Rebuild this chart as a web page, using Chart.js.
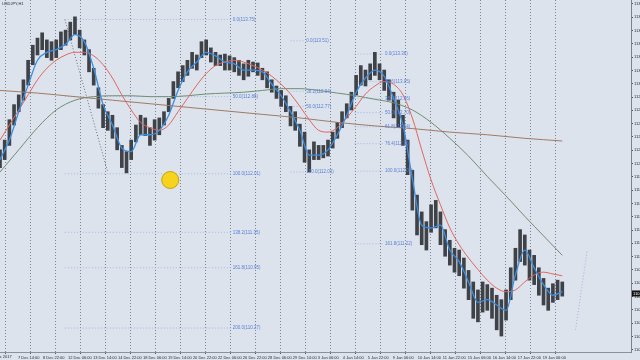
<!DOCTYPE html>
<html><head><meta charset="utf-8">
<script src="https://cdn.jsdelivr.net/npm/chart.js@4"></script>
<style>html,body{margin:0;padding:0;background:#dce3ed;overflow:hidden}</style>
</head><body>
<canvas id="c" width="640" height="360"></canvas>
<script>
// ---- data (H1 bars, sampled every 6 bars: high/low) ----
const symbolName = 'USDJPY,H1';
const sampleBar = [];
for (let i = 0; i <= 120; i++) sampleBar.push(i * 6);
const highs = [112.28,112.39,112.62,112.79,112.90,113.07,113.29,113.46,113.54,113.60,113.52,113.50,113.52,113.61,113.63,113.72,113.78,113.63,113.52,113.41,
113.20,112.98,112.79,112.71,112.67,112.53,112.33,112.26,112.39,112.56,112.67,112.64,112.53,112.62,112.64,112.71,112.86,113.05,113.16,113.23,
113.29,113.38,113.35,113.50,113.52,113.43,113.38,113.35,113.36,113.34,113.32,113.29,113.25,113.29,113.27,113.26,113.20,113.16,113.07,113.00,
112.95,112.89,112.77,112.71,112.57,112.48,112.28,112.37,112.33,112.33,112.39,112.48,112.59,112.71,112.80,112.93,113.12,113.23,113.18,113.25,
113.38,113.25,113.18,113.07,112.93,112.84,112.67,112.39,112.05,111.77,111.58,111.47,111.66,111.71,111.58,111.38,111.26,111.17,111.15,111.06,
110.92,110.79,110.70,110.79,110.76,110.72,110.64,110.59,110.70,110.95,111.17,111.38,111.32,111.15,111.09,110.95,110.83,110.72,110.77,110.81,110.79];
const lows = [112.08,112.17,112.33,112.56,112.71,112.84,113.01,113.24,113.35,113.41,113.32,113.29,113.32,113.41,113.46,113.52,113.58,113.43,113.35,113.16,
113.01,112.75,112.53,112.50,112.41,112.28,112.08,112.02,112.17,112.37,112.45,112.44,112.33,112.39,112.45,112.56,112.71,112.86,112.98,113.05,
113.12,113.20,113.18,113.32,113.35,113.27,113.23,113.23,113.18,113.18,113.16,113.12,113.07,113.11,113.16,113.12,113.07,112.98,112.93,112.86,
112.77,112.71,112.55,112.50,112.32,112.14,112.03,112.17,112.17,112.19,112.21,112.30,112.41,112.53,112.64,112.73,112.90,113.01,113.00,113.07,
113.12,113.07,112.95,112.84,112.64,112.53,112.33,112.00,111.60,111.32,111.21,111.15,111.35,111.40,111.21,111.08,110.98,110.90,110.86,110.72,
110.59,110.38,110.34,110.45,110.47,110.38,110.25,110.18,110.36,110.59,110.81,111.02,110.98,110.81,110.76,110.64,110.53,110.47,110.56,110.59,110.63];
const lastClose = 110.66;

// moving averages (sampled every 12 bars)
const maBar = [];
for (let i = 0; i <= 60; i++) maBar.push(i * 12);
const maFast = [112.17,112.39,112.71,113.01,113.29,113.38,113.41,113.47,113.58,113.50,113.20,112.79,112.56,112.30,112.26,112.45,112.45,112.50,112.67,112.95,
113.16,113.27,113.38,113.34,113.27,113.25,113.18,113.18,113.16,113.02,112.89,112.71,112.50,112.22,112.22,112.28,112.45,112.67,112.93,113.09,
113.18,113.11,112.86,112.56,111.96,111.43,111.40,111.43,111.15,111.02,110.79,110.56,110.59,110.53,110.47,110.87,111.15,110.95,110.76,110.64,110.68];
const maMid = [112.39,112.56,112.73,112.90,113.07,113.20,113.29,113.35,113.38,113.38,113.34,113.24,113.09,112.90,112.73,112.59,112.53,112.50,112.56,112.71,
112.86,113.01,113.14,113.23,113.27,113.29,113.27,113.23,113.18,113.11,113.02,112.91,112.77,112.62,112.50,112.48,112.53,112.64,112.77,112.91,
113.00,113.05,113.02,112.90,112.64,112.28,111.94,111.66,111.40,111.21,111.06,110.93,110.81,110.72,110.68,110.70,110.79,110.87,110.90,110.88,110.86];
// slow MA (sampled every 24 bars)
const slowBar = [];
for (let i = 0; i <= 30; i++) slowBar.push(i * 24);
const maSlow = [112.03,112.28,112.53,112.73,112.84,112.88,112.89,112.89,112.88,112.88,112.89,112.91,112.92,112.93,112.95,112.97,112.97,112.95,112.92,112.89,
112.85,112.81,112.73,112.59,112.41,112.21,111.98,111.76,111.53,111.31,111.09];
// very slow MA (sampled every 48 bars)
const longBar = [];
for (let i = 0; i <= 15; i++) longBar.push(i * 48);
const maLong = [112.95,112.92,112.88,112.84,112.80,112.76,112.72,112.68,112.64,112.59,112.55,112.52,112.48,112.45,112.41,112.38];

// time axis labels
const firstLabel = '6 Dec 2017';
const firstLabelBar = 15;
const tickIdx = [23,55,87,119,151,183,215,247,279,311,343,375,407,439,471,503,535,567,599,631,663,695];
const tickText = ['7 Dec 14:00','8 Dec 22:00','12 Dec 06:00','13 Dec 14:00','14 Dec 22:00','18 Dec 06:00','19 Dec 14:00',
'20 Dec 22:00','22 Dec 06:00','26 Dec 22:00','28 Dec 06:00','29 Dec 14:00','3 Jan 06:00','4 Jan 14:00','5 Jan 22:00','9 Jan 06:00',
'10 Jan 14:00','11 Jan 22:00','15 Jan 06:00','16 Jan 14:00','17 Jan 22:00','19 Jan 06:00'];
// price axis labels
const priceTicks = [113.925,113.775,113.625,113.475,113.325,113.175,113.025,112.875,112.725,112.575,112.425,112.275,112.125,111.975,
111.825,111.675,111.525,111.375,111.225,111.075,110.925,110.775,110.625,110.475,110.325,110.175,110.025];

// fibonacci objects
const fibA = {from: 83, to: 297, label: 298, levels: ['0.0','50.0','100.0','138.2','161.8','200.0'],
  prices: [113.75,112.88,112.01,111.35,110.95,110.27]};
const fibB = {from: 454, to: 492, label: 493, levels: ['0.0','23.6','38.2','50.0','61.8','76.4','100.0','161.8'],
  prices: [113.36,113.05,112.86,112.70,112.54,112.35,112.04,111.22]};
const fibC = {from: 372, to: 391, label: 392, levels: ['0.0','38.2','50.0','100.0'],
  prices: [113.51,112.94,112.77,112.03]};
const fibTrendBars = [83, 138];
const fibTrendPrices = [113.75, 112.03];
const rayBars = [737, 752];
const rayPrices = [110.25, 111.15];
const cursorBar = 218, cursorPrice = 111.94;

// ---- build ----
const bg = '#dce3ed';
const FONT = '"Liberation Sans", Arial, sans-serif';
const datasets = [];
datasets.push({type:'bar', data: sampleBar.map((b,i)=>({x:b, y:[lows[i], highs[i]]})),
  backgroundColor:'#3f4247', barThickness:3, borderWidth:0, order:5});
function lineDs(xs, ys, color, w, order){
  return {type:'line', data: xs.map((b,i)=>({x:b,y:ys[i]})), borderColor:color, borderWidth:w,
    pointRadius:0, tension:0.4, cubicInterpolationMode:'monotone', fill:false, order:order};
}
datasets.push(lineDs(longBar, maLong, '#a27a64', 1, 3));
datasets.push(lineDs(slowBar, maSlow, '#6f8f74', 1, 3));
datasets.push(lineDs(maBar, maMid, '#e2665e', 1, 2));
datasets.push(lineDs(maBar, maFast, '#3b8fe3', 1.3, 1));
[fibA, fibB, fibC].forEach(f => f.prices.forEach(p => {
  datasets.push({type:'line', data:[{x:f.from,y:p},{x:f.to,y:p}], borderColor:'#a3b8e6', borderWidth:1,
    borderDash:[1,2], pointRadius:0, fill:false, order:6});
}));
datasets.push({type:'line', data: fibTrendBars.map((b,i)=>({x:b,y:fibTrendPrices[i]})), borderColor:'#6b6f78',
  borderWidth:1, borderDash:[1,2], pointRadius:0, fill:false, order:6});
datasets.push({type:'line', data: rayBars.map((b,i)=>({x:b,y:rayPrices[i]})), borderColor:'#9fb5e5',
  borderWidth:1, borderDash:[1,2], pointRadius:0, fill:false, order:6});
datasets.push({type:'scatter', data:[{x:cursorBar,y:cursorPrice}], pointRadius:8.5, backgroundColor:'#f6d31c',
  borderColor:'#c9a30a', borderWidth:1, order:0});

const bgPlugin = {id:'bg', beforeDraw(ch){const c=ch.ctx; c.save(); c.fillStyle=bg; c.fillRect(0,0,ch.width,ch.height); c.restore();}};
const textPlugin = {id:'txt', afterDatasetsDraw(ch){
  const c = ch.ctx, xs = ch.scales.x, ys = ch.scales.y;
  c.save();
  c.font = '4.5px ' + FONT;
  c.fillStyle = '#5b7fd3'; c.textAlign='left'; c.textBaseline='middle';
  [fibA, fibB, fibC].forEach(f => f.prices.forEach((p,i) => {
    c.fillText(f.levels[i] + '(' + p.toFixed(2) + ')', xs.getPixelForValue(f.label), ys.getPixelForValue(p));
  }));
  c.fillStyle = '#2a2d33'; c.textBaseline='top'; c.font = '4px ' + FONT;
  c.fillText(symbolName, ch.chartArea.left + 2, ch.chartArea.top + 2);
  c.restore();
}, afterDraw(ch){
  const c = ch.ctx, xs = ch.scales.x, ys = ch.scales.y, a = ch.chartArea;
  const y = ys.getPixelForValue(lastClose);
  c.save(); c.fillStyle='#111'; c.fillRect(a.right+1, y-3, ch.width-a.right, 6);
  c.fillStyle='#fff'; c.font='4px ' + FONT; c.textBaseline='middle'; c.textAlign='left';
  c.fillText(lastClose.toFixed(3), a.right+2, y);
  c.fillStyle='#2a2d33'; c.textAlign='right'; c.textBaseline='top';
  c.fillText(firstLabel, xs.getPixelForValue(firstLabelBar), a.bottom + 3);
  c.restore();
}};

new Chart(document.getElementById('c'), {
  type:'line',
  data:{datasets},
  options:{
    responsive:false, animation:false, devicePixelRatio:1,
    layout:{padding:0, autoPadding:false},
    plugins:{legend:{display:false}, tooltip:{enabled:false}},
    scales:{
      x:{type:'linear', position:'bottom', min:0, max:808, offset:false,
        afterBuildTicks(s){ s.ticks = tickIdx.map(v=>({value:v})); },
        afterFit(s){ s.height = 8; s.paddingLeft = 0; s.paddingRight = 0; },
        ticks:{autoSkip:false, maxRotation:0, minRotation:0, padding:1, align:'start',
          font:{size:4, family:FONT}, color:'#2a2d33',
          callback(v){ const i = tickIdx.indexOf(v); return i>=0 ? tickText[i] : ''; }},
        grid:{color:'#7e8592', lineWidth:1, tickLength:2, tickColor:'#555'},
        border:{display:true, color:'#8a919c', width:1, dash:[1,2]}
      },
      y:{type:'linear', position:'right', min:110.0, max:113.97,
        afterBuildTicks(s){ s.ticks = priceTicks.map(v=>({value:v})); },
        afterFit(s){ s.width = 9; s.paddingTop = 0; s.paddingBottom = 0; },
        ticks:{padding:1, font:{size:4, family:FONT}, color:'#2a2d33',
          callback(v){ return v.toFixed(3); }},
        grid:{drawOnChartArea:false, tickLength:2, color:'#555'},
        border:{display:true, color:'#7a818c', width:1}
      }
    }
  },
  plugins:[bgPlugin, textPlugin]
});
</script>
</body></html>
